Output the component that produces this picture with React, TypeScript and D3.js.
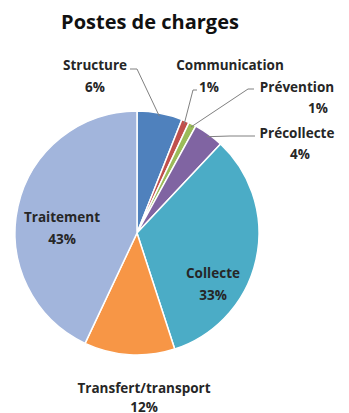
import React from "react";
import * as d3 from "d3";

const categories = ["Structure", "Communication", "Prévention", "Précollecte", "Collecte", "Transfert/transport", "Traitement"];
const values = [6, 1, 1, 4, 33, 12, 43];
const colors = ["#4F81BD", "#C0504D", "#9BBB59", "#8064A2", "#4BACC6", "#F79646", "#A2B5DC"];
const title = "Postes de charges";

// label layout: name position, percent position, leader start & elbow
const labelLayout: { x: number; y: number; px: number; py: number; lx?: number; ly?: number; ex?: number }[] = [
  { x: 95, y: 70, px: 95, py: 92, lx: 130, ly: 69, ex: 137 },
  { x: 230, y: 70, px: 209, py: 92, lx: 197, ly: 90, ex: 193 },
  { x: 297, y: 92, px: 318, py: 113, lx: 254, ly: 89, ex: 248 },
  { x: 297, y: 138, px: 300, py: 159, lx: 255, ly: 136, ex: 230 },
  { x: 213, y: 278, px: 213, py: 300 },
  { x: 144, y: 393, px: 144, py: 412 },
  { x: 62, y: 222, px: 62, py: 244 },
];

export default function App() {
  const W = 349, H = 413;
  const cx = 137, cy = 233, r = 122;
  const pie = d3.pie<number>().sort(null).value((d) => d);
  const arcs = pie(values);
  const arc = d3.arc<d3.PieArcDatum<number>>().innerRadius(0).outerRadius(r);
  const font = "'Open Sans', 'Liberation Sans', sans-serif";
  const total = d3.sum(values);
  return (
    <svg width={W} height={H} style={{ position: "absolute", left: 0, top: 0, background: "#fff" }}>
      <text x={150} y={29} textAnchor="middle" fontFamily={font} fontWeight={700} fontSize={20} fill="#111">
        {title}
      </text>
      <g transform={`translate(${cx},${cy})`}>
        {arcs.map((a, i) => (
          <path key={i} d={arc(a) || ""} fill={colors[i]} stroke="#fff" strokeWidth={1.5} />
        ))}
      </g>
      {arcs.map((a, i) => {
        const L = labelLayout[i];
        const pct = Math.round((values[i] / total) * 100) + "%";
        const mid = (a.startAngle + a.endAngle) / 2;
        const ax = cx + Math.sin(mid) * (r - 3);
        const ay = cy - Math.cos(mid) * (r - 3);
        return (
          <g key={i}>
            {L.lx !== undefined && (
              <polyline
                points={`${L.lx},${L.ly} ${L.ex},${L.ly} ${ax},${ay}`}
                fill="none"
                stroke="#808080"
                strokeWidth={1}
              />
            )}
            <text x={L.x} y={L.y} textAnchor="middle" fontFamily={font} fontWeight={700} fontSize={13.5} fill="#262626">
              {categories[i]}
            </text>
            <text x={L.px} y={L.py} textAnchor="middle" fontFamily={font} fontWeight={700} fontSize={13.5} fill="#262626">
              {pct}
            </text>
          </g>
        );
      })}
    </svg>
  );
}
